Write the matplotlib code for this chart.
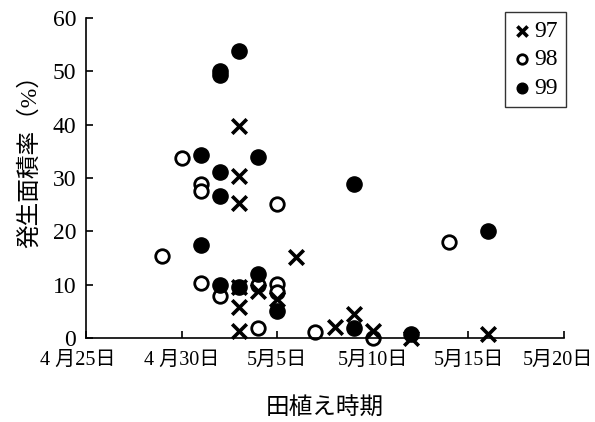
import matplotlib
matplotlib.use("Agg")
import matplotlib.pyplot as plt
import matplotlib.transforms as mtransforms

plt.rcParams['font.family'] = ['Liberation Serif', 'Noto Sans CJK JP']

# x = day counted from 1 April (May d -> 30 + d)
x97 = [33, 33, 33, 36, 33, 34, 35, 33, 33, 38, 39, 40, 42, 46]
y97 = [39.8, 30.4, 25.3, 15.2, 9.6, 8.8, 7.3, 5.8, 1.4, 2.0, 4.5, 1.3, 0.0, 0.8]

x98 = [29, 30, 31, 31, 31, 32, 34, 34, 35, 35, 35, 37, 40, 44]
y98 = [15.3, 33.8, 28.8, 27.6, 10.4, 7.8, 9.9, 1.9, 25.1, 10.1, 8.6, 1.2, 0.0, 18.0]

x99 = [31, 31, 32, 32, 32, 32, 32, 33, 33, 34, 34, 35, 39, 39, 42, 46]
y99 = [34.3, 17.4, 50.0, 49.3, 31.1, 26.7, 9.9, 53.9, 9.6, 34.0, 12.0, 5.0, 28.9, 1.8, 0.8, 20.1]

xticks = [25, 30, 35, 40, 45, 50]
xticklabels = ['4 月25日', '4 月30日', '5月5日', '5月10日', '5月15日', '5月20日']
yticks = [0, 10, 20, 30, 40, 50, 60]

fig = plt.figure(figsize=(5.95, 4.22), dpi=100)
ax = fig.add_axes([0.1445, 0.199, 0.8035, 0.758])

ax.scatter(x97, y97, marker='x', s=110, color='black', linewidths=2.6,
           label='97', clip_on=False, zorder=3)
ax.scatter(x98, y98, marker='o', s=95, facecolors='white', edgecolors='black',
           linewidths=2.0, label='98', clip_on=False, zorder=2)
ax.scatter(x99, y99, marker='o', s=120, color='black', label='99',
           clip_on=False, zorder=2)

ax.set_xlim(25, 50)
ax.set_ylim(0, 60)
ax.set_xticks(xticks)
ax.set_xticklabels(xticklabels, fontsize=14.5)
ax.set_yticks(yticks)
ax.tick_params(axis='y', labelsize=17)
ax.tick_params(direction='in', length=5, width=1.2, color='black')
ax.tick_params(axis='x', pad=9)
ax.tick_params(axis='y', pad=7)

# nudge the end labels a little, as in the original
labs = ax.get_xticklabels()
for lab, dx in [(labs[0], -8), (labs[-1], -6)]:
    lab.set_transform(lab.get_transform() +
                      mtransforms.ScaledTranslation(dx / 100, 0, fig.dpi_scale_trans))

for s in ['top', 'right']:
    ax.spines[s].set_visible(False)
for s in ['left', 'bottom']:
    ax.spines[s].set_linewidth(1.2)

ax.set_xlabel('田植え時期', fontsize=17, labelpad=20)
ax.set_ylabel('発生面積率（%）', fontsize=17)
ax.yaxis.set_label_coords(-0.095, 0.57)

leg = ax.legend(loc='upper right', bbox_to_anchor=(566/595, 1 - 12/422),
                bbox_transform=fig.transFigure, fontsize=17, markerscale=0.7,
                frameon=True, fancybox=False, handletextpad=0.1,
                borderpad=0.35, labelspacing=0.3, handlelength=0.8,
                borderaxespad=0)
leg.get_frame().set_edgecolor('black')
leg.get_frame().set_linewidth(1.0)

fig.savefig('out.png', dpi=100)
